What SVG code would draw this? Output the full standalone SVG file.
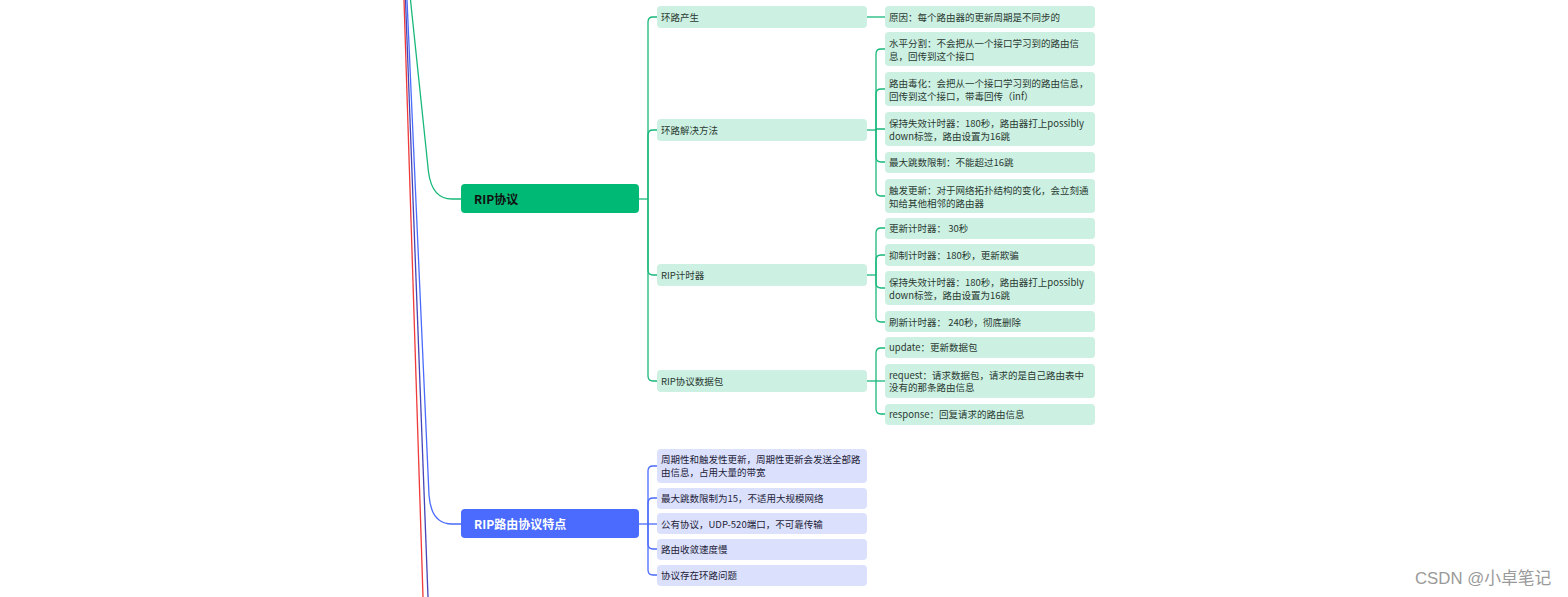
<svg xmlns="http://www.w3.org/2000/svg" width="1568" height="597" viewBox="0 0 1568 597">
<style>
text{font-family:"Noto Sans CJK SC","Noto Sans",sans-serif;}
.t{font-size:9.5px;fill:#2a3a33;}
.tb{font-size:9.5px;fill:#1e2238;}
.g2{fill:#ccf0e1;}
.b2{fill:#dbe1fd;}
.cg{fill:none;stroke:#17b87a;stroke-width:1.3;}
.cb{fill:none;stroke:#4a6bfd;stroke-width:1.3;}
.main{font-size:12px;font-weight:bold;}
</style>
<rect width="1568" height="597" fill="#ffffff"/>
<g id="connectors">
  <path d="M404,0 L423,597" fill="none" stroke="#f03a3a" stroke-width="1.3"/>
  <path d="M405.5,0 L428,597" fill="none" stroke="#4545b8" stroke-width="1.3"/>
  <path class="cb" d="M407,0 L429,495 Q431,524 452,524 L461,524"/>
  <path class="cg" d="M410.5,0 L428.5,172 Q432,199 452,199 L461,199"/>
  <!-- green level 2 -->
  <path class="cg" d="M639,199 H648"/>
  <path class="cg" d="M648,199 V22 Q648,17 653,17 H657"/>
  <path class="cg" d="M648,199 V135 Q648,130 653,130 H657"/>
  <path class="cg" d="M648,199 V270 Q648,275 653,275 H657"/>
  <path class="cg" d="M648,199 V376 Q648,381 653,381 H657"/>
  <!-- green level 3 -->
  <path class="cg" d="M867,17 H885"/>
  <path class="cg" d="M867,130 H876"/>
  <path class="cg" d="M876,130 V54 Q876,49 881,49 H885"/>
  <path class="cg" d="M876,130 V94 Q876,89 881,89 H885"/>
  <path class="cg" d="M876,130 V129 H885"/>
  <path class="cg" d="M876,130 V157 Q876,162 881,162 H885"/>
  <path class="cg" d="M876,130 V191 Q876,196 881,196 H885"/>
  <path class="cg" d="M867,275 H876"/>
  <path class="cg" d="M876,275 V233 Q876,228 881,228 H885"/>
  <path class="cg" d="M876,275 V260 Q876,255 881,255 H885"/>
  <path class="cg" d="M876,275 V283 Q876,288 881,288 H885"/>
  <path class="cg" d="M876,275 V317 Q876,322 881,322 H885"/>
  <path class="cg" d="M867,381 H885"/>
  <path class="cg" d="M876,381 V353 Q876,348 881,348 H885"/>
  <path class="cg" d="M876,381 V409 Q876,414 881,414 H885"/>
  <!-- blue level 2 -->
  <path class="cb" d="M639,524 H657"/>
  <path class="cb" d="M648,524 V471 Q648,466 653,466 H657"/>
  <path class="cb" d="M648,524 V503 Q648,498 653,498 H657"/>
  <path class="cb" d="M648,524 V544 Q648,549 653,549 H657"/>
  <path class="cb" d="M648,524 V570 Q648,575 653,575 H657"/>
</g>
<g id="n-rip">
  <rect x="461" y="184" width="178" height="29" rx="4" fill="#00b974"/>
  <text x="474" y="203.5" class="main" fill="#111111">RIP协议</text>
</g>
<g id="n-ripfeat">
  <rect x="461" y="509" width="178" height="29" rx="4" fill="#4a6bfd"/>
  <text x="474" y="528.5" class="main" fill="#ffffff">RIP路由协议特点</text>
</g>
<g id="n-loop">
  <rect class="g2" x="657" y="6" width="210" height="22" rx="4"/>
  <text class="t" x="661" y="20.5">环路产生</text>
</g>
<g id="n-loopfix">
  <rect class="g2" x="657" y="119" width="210" height="22" rx="4"/>
  <text class="t" x="661" y="133.5">环路解决方法</text>
</g>
<g id="n-timer">
  <rect class="g2" x="657" y="264" width="210" height="22" rx="4"/>
  <text class="t" x="661" y="278.5">RIP计时器</text>
</g>
<g id="n-packet">
  <rect class="g2" x="657" y="370" width="210" height="22" rx="4"/>
  <text class="t" x="661" y="384.5">RIP协议数据包</text>
</g>
<g id="n-cause">
  <rect class="g2" x="885" y="6" width="210" height="22" rx="4"/>
  <text class="t" x="889" y="20.5">原因：每个路由器的更新周期是不同步的</text>
</g>
<g id="n-split">
  <rect class="g2" x="885" y="32" width="210" height="34" rx="4"/>
  <text class="t" x="889" y="47">水平分割：不会把从一个接口学习到的路由信</text>
  <text class="t" x="889" y="59.5">息，回传到这个接口</text>
</g>
<g id="n-poison">
  <rect class="g2" x="885" y="72" width="210" height="34" rx="4"/>
  <text class="t" x="889" y="87">路由毒化：会把从一个接口学习到的路由信息，</text>
  <text class="t" x="889" y="99.5">回传到这个接口，带毒回传（inf）</text>
</g>
<g id="n-holddown1">
  <rect class="g2" x="885" y="112" width="210" height="34" rx="4"/>
  <text class="t" x="889" y="127">保持失效计时器：180秒，路由器打上possibly</text>
  <text class="t" x="889" y="139.5">down标签，路由设置为16跳</text>
</g>
<g id="n-maxhop">
  <rect class="g2" x="885" y="152" width="210" height="21" rx="4"/>
  <text class="t" x="889" y="166">最大跳数限制：不能超过16跳</text>
</g>
<g id="n-trigger">
  <rect class="g2" x="885" y="179" width="210" height="34" rx="4"/>
  <text class="t" x="889" y="194">触发更新：对于网络拓扑结构的变化，会立刻通</text>
  <text class="t" x="889" y="206.5">知给其他相邻的路由器</text>
</g>
<g id="n-update-timer">
  <rect class="g2" x="885" y="218" width="210" height="21" rx="4"/>
  <text class="t" x="889" y="232">更新计时器： 30秒</text>
</g>
<g id="n-suppress">
  <rect class="g2" x="885" y="244" width="210" height="22" rx="4"/>
  <text class="t" x="889" y="258.5">抑制计时器：180秒，更新欺骗</text>
</g>
<g id="n-holddown2">
  <rect class="g2" x="885" y="271" width="210" height="34" rx="4"/>
  <text class="t" x="889" y="286">保持失效计时器：180秒，路由器打上possibly</text>
  <text class="t" x="889" y="298.5">down标签，路由设置为16跳</text>
</g>
<g id="n-flush">
  <rect class="g2" x="885" y="311" width="210" height="21" rx="4"/>
  <text class="t" x="889" y="325.5">刷新计时器： 240秒，彻底删除</text>
</g>
<g id="n-update">
  <rect class="g2" x="885" y="337" width="210" height="21" rx="4"/>
  <text class="t" x="889" y="351">update：更新数据包</text>
</g>
<g id="n-request">
  <rect class="g2" x="885" y="364" width="210" height="34" rx="4"/>
  <text class="t" x="889" y="378.5">request：请求数据包，请求的是自己路由表中</text>
  <text class="t" x="889" y="391">没有的那条路由信息</text>
</g>
<g id="n-response">
  <rect class="g2" x="885" y="404" width="210" height="21" rx="4"/>
  <text class="t" x="889" y="418">response：回复请求的路由信息</text>
</g>
<g id="n-f1">
  <rect class="b2" x="657" y="449" width="210" height="34" rx="4"/>
  <text class="tb" x="661" y="462.5">周期性和触发性更新，周期性更新会发送全部路</text>
  <text class="tb" x="661" y="475.5">由信息，占用大量的带宽</text>
</g>
<g id="n-f2">
  <rect class="b2" x="657" y="488" width="210" height="21" rx="4"/>
  <text class="tb" x="661" y="502">最大跳数限制为15，不适用大规模网络</text>
</g>
<g id="n-f3">
  <rect class="b2" x="657" y="513" width="210" height="21" rx="4"/>
  <text class="tb" x="661" y="527.5">公有协议，UDP-520端口，不可靠传输</text>
</g>
<g id="n-f4">
  <rect class="b2" x="657" y="539" width="210" height="21" rx="4"/>
  <text class="tb" x="661" y="553">路由收敛速度慢</text>
</g>
<g id="n-f5">
  <rect class="b2" x="657" y="565" width="210" height="21" rx="4"/>
  <text class="tb" x="661" y="579">协议存在环路问题</text>
</g>
<text x="1415" y="584" font-size="16.8" fill="#9a9a9a" style="font-family:'Liberation Sans','Noto Sans CJK SC',sans-serif">CSDN @小卓笔记</text>
</svg>
